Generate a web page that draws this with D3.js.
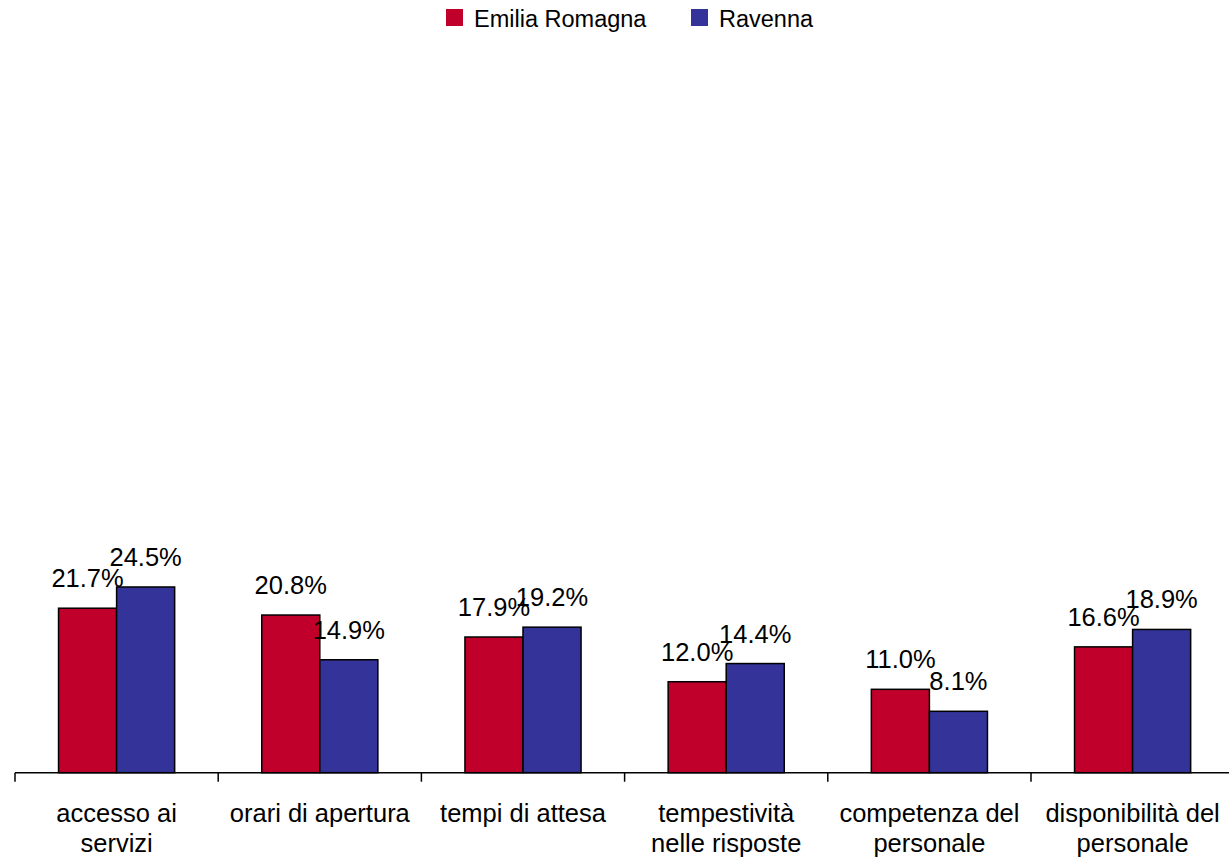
<!DOCTYPE html>
<html>
<head>
<meta charset="utf-8">
<script src="https://cdn.jsdelivr.net/npm/d3@7"></script>
<style>
body{margin:0;background:#fff;}
svg{display:block;font-family:"Liberation Sans",Arial,sans-serif;}
</style>
</head>
<body>
<svg id="chart" width="1229" height="857"></svg>
<script>
const categories = [
  ["accesso ai","servizi"],
  ["orari di apertura"],
  ["tempi di attesa"],
  ["tempestività","nelle risposte"],
  ["competenza del","personale"],
  ["disponibilità del","personale"]
];
const seriesNames = ["Emilia Romagna","Ravenna"];
const emilia = [21.7, 20.8, 17.9, 12.0, 11.0, 16.6];
const ravenna = [24.5, 14.9, 19.2, 14.4, 8.1, 18.9];
const colors = ["#C0002A","#333399"];

const svg = d3.select("#chart");
const x0 = 15, x1 = 15 + 6*203.2, yBase = 772.7;
const x = d3.scaleBand().domain(d3.range(categories.length)).range([x0,x1]).paddingInner(0).paddingOuter(0);
const xs = d3.scaleBand().domain([0,1]).range([0,x.bandwidth()]).paddingInner(0).paddingOuter(0.75);
const y = d3.scaleLinear().domain([0,100]).range([yBase, yBase-758]);

const data = categories.map((c,i)=>({i, vals:[emilia[i], ravenna[i]]}));

const g = svg.append("g");
const groups = g.selectAll("g.cat").data(data).enter().append("g")
  .attr("transform", d=>`translate(${x(d.i)},0)`);

groups.selectAll("rect").data(d=>d.vals.map((v,s)=>({v,s}))).enter().append("rect")
  .attr("x", d=>xs(d.s))
  .attr("width", xs.bandwidth())
  .attr("y", d=>y(d.v))
  .attr("height", d=>yBase - y(d.v))
  .attr("fill", d=>colors[d.s])
  .attr("stroke", "#000")
  .attr("stroke-width", 1.5);

groups.selectAll("text.val").data(d=>d.vals.map((v,s)=>({v,s}))).enter().append("text")
  .attr("class","val")
  .attr("x", d=>xs(d.s)+xs.bandwidth()/2)
  .attr("y", d=>y(d.v)-21)
  .attr("text-anchor","middle")
  .attr("font-size", 25.5)
  .attr("fill","#000")
  .text(d=>d.v.toFixed(1)+"%");

// axis
const axis = d3.axisBottom(x).tickSize(9).tickFormat("");
const axG = svg.append("g").attr("transform",`translate(0,${yBase})`);
axG.append("line").attr("x1",x0).attr("x2",1229).attr("y1",0).attr("y2",0).attr("stroke","#000").attr("stroke-width",1.5);
const tickPos = d3.range(categories.length+1).map(i=>x0 + i*x.step());
axG.selectAll("line.tick").data(tickPos).enter().append("line")
  .attr("x1",d=>d).attr("x2",d=>d).attr("y1",0).attr("y2",9)
  .attr("stroke","#000").attr("stroke-width",1.5);

// category labels
const labs = svg.append("g").selectAll("text").data(categories).enter().append("text")
  .attr("text-anchor","middle")
  .attr("font-size",25.5)
  .attr("fill","#000")
  .attr("transform",(d,i)=>`translate(${x(i)+x.bandwidth()/2},${yBase+49})`);
labs.selectAll("tspan").data(d=>d).enter().append("tspan")
  .attr("x",0).attr("dy",(d,j)=>j===0?0:30).text(d=>d);

// legend
const legX = [446, 691];
const leg = svg.append("g").selectAll("g").data(seriesNames).enter().append("g")
  .attr("transform",(d,i)=>`translate(${legX[i]},9)`);
leg.append("rect").attr("width",17).attr("height",17).attr("fill",(d,i)=>colors[i]);
leg.append("text").attr("x",28).attr("y",17.5).attr("font-size",23.5).attr("fill","#000").text(d=>d);
</script>
</body>
</html>
